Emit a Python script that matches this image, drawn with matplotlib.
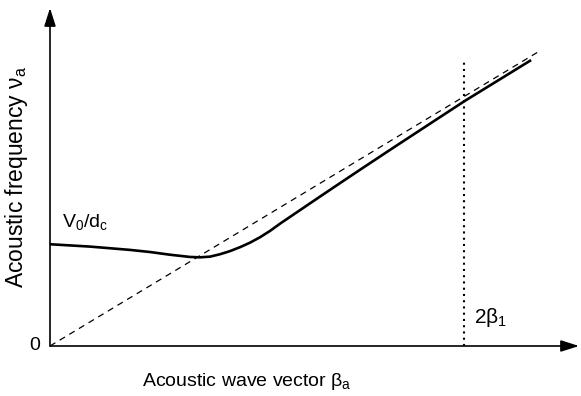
import numpy as np
import matplotlib
matplotlib.use("Agg")
import matplotlib.pyplot as plt

plt.rcParams["font.family"] = ["Liberation Sans", "DejaVu Sans"]
plt.rcParams["mathtext.fontset"] = "custom"
plt.rcParams["mathtext.rm"] = "Liberation Sans"
plt.rcParams["mathtext.it"] = "Liberation Sans:italic"
plt.rcParams["mathtext.default"] = "regular"

# dispersion curve (dashed line is nu = beta)
beta = [0.0, 0.4, 0.8, 1.0, 1.2, 1.4, 1.5, 1.6, 1.7, 1.8, 1.9, 2.0, 2.1,
        2.2, 2.3, 2.5, 2.7, 2.9, 3.1, 3.4, 3.8, 4.15, 4.8]
nu = [1.689, 1.650, 1.595, 1.560, 1.515, 1.478, 1.472, 1.483, 1.523, 1.575,
      1.640, 1.715, 1.805, 1.910, 2.030, 2.255, 2.480, 2.703, 2.925, 3.255,
      3.690, 4.070, 4.734]
light_line = [0.0, 4.88]
two_beta1 = 4.14
dotted_top = 4.72

XMAX = 5.31
YMAX = 5.66

fig = plt.figure(figsize=(5.81, 3.96), dpi=100)
ax = fig.add_axes([50 / 581, 50 / 396, 531 / 581, 341 / 396])
ax.set_xlim(0, XMAX)
ax.set_ylim(0, YMAX)
for s in ax.spines.values():
    s.set_visible(False)
ax.set_xticks([])
ax.set_yticks([])

# axes with arrow heads
arrow = dict(arrowstyle="-|>,head_length=1.1,head_width=0.35", color="black", lw=1.2,
             shrinkA=0, shrinkB=0)
ax.annotate("", xy=(XMAX - 0.02, 0), xytext=(0, 0), arrowprops=arrow,
            annotation_clip=False)
ax.annotate("", xy=(0, YMAX - 0.05), xytext=(0, 0), arrowprops=arrow,
            annotation_clip=False)

ax.plot(light_line, light_line, ls=(0, (5, 4)), color="black", lw=0.9)
ax.plot(beta, nu, color="black", lw=1.9, solid_joinstyle="round")
ax.plot([two_beta1, two_beta1], [0, dotted_top], ls=(0, (1, 2)), color="black", lw=1.5)

ax.text(0.12, 1.97, r"V$_0$/d$_c$", fontsize=14, ha="left", va="baseline")
ax.text(-0.1, 0, "0", fontsize=14, ha="right", va="center")
ax.text(two_beta1 + 0.1, 0.38, r"$\mathregular{2\beta_1}$", fontsize=15,
        math_fontfamily="stix", ha="left", va="baseline")

fig.text(247 / 581, 1 - 382 / 396, r"Acoustic wave vector $\beta_a$", fontsize=14,
         ha="center", va="center")
fig.text(17 / 581, 1 - 177 / 396, r"Acoustic frequency $\nu_a$", fontsize=16.5,
         ha="center", va="center", rotation=90)

fig.savefig("out.png", dpi=100)
